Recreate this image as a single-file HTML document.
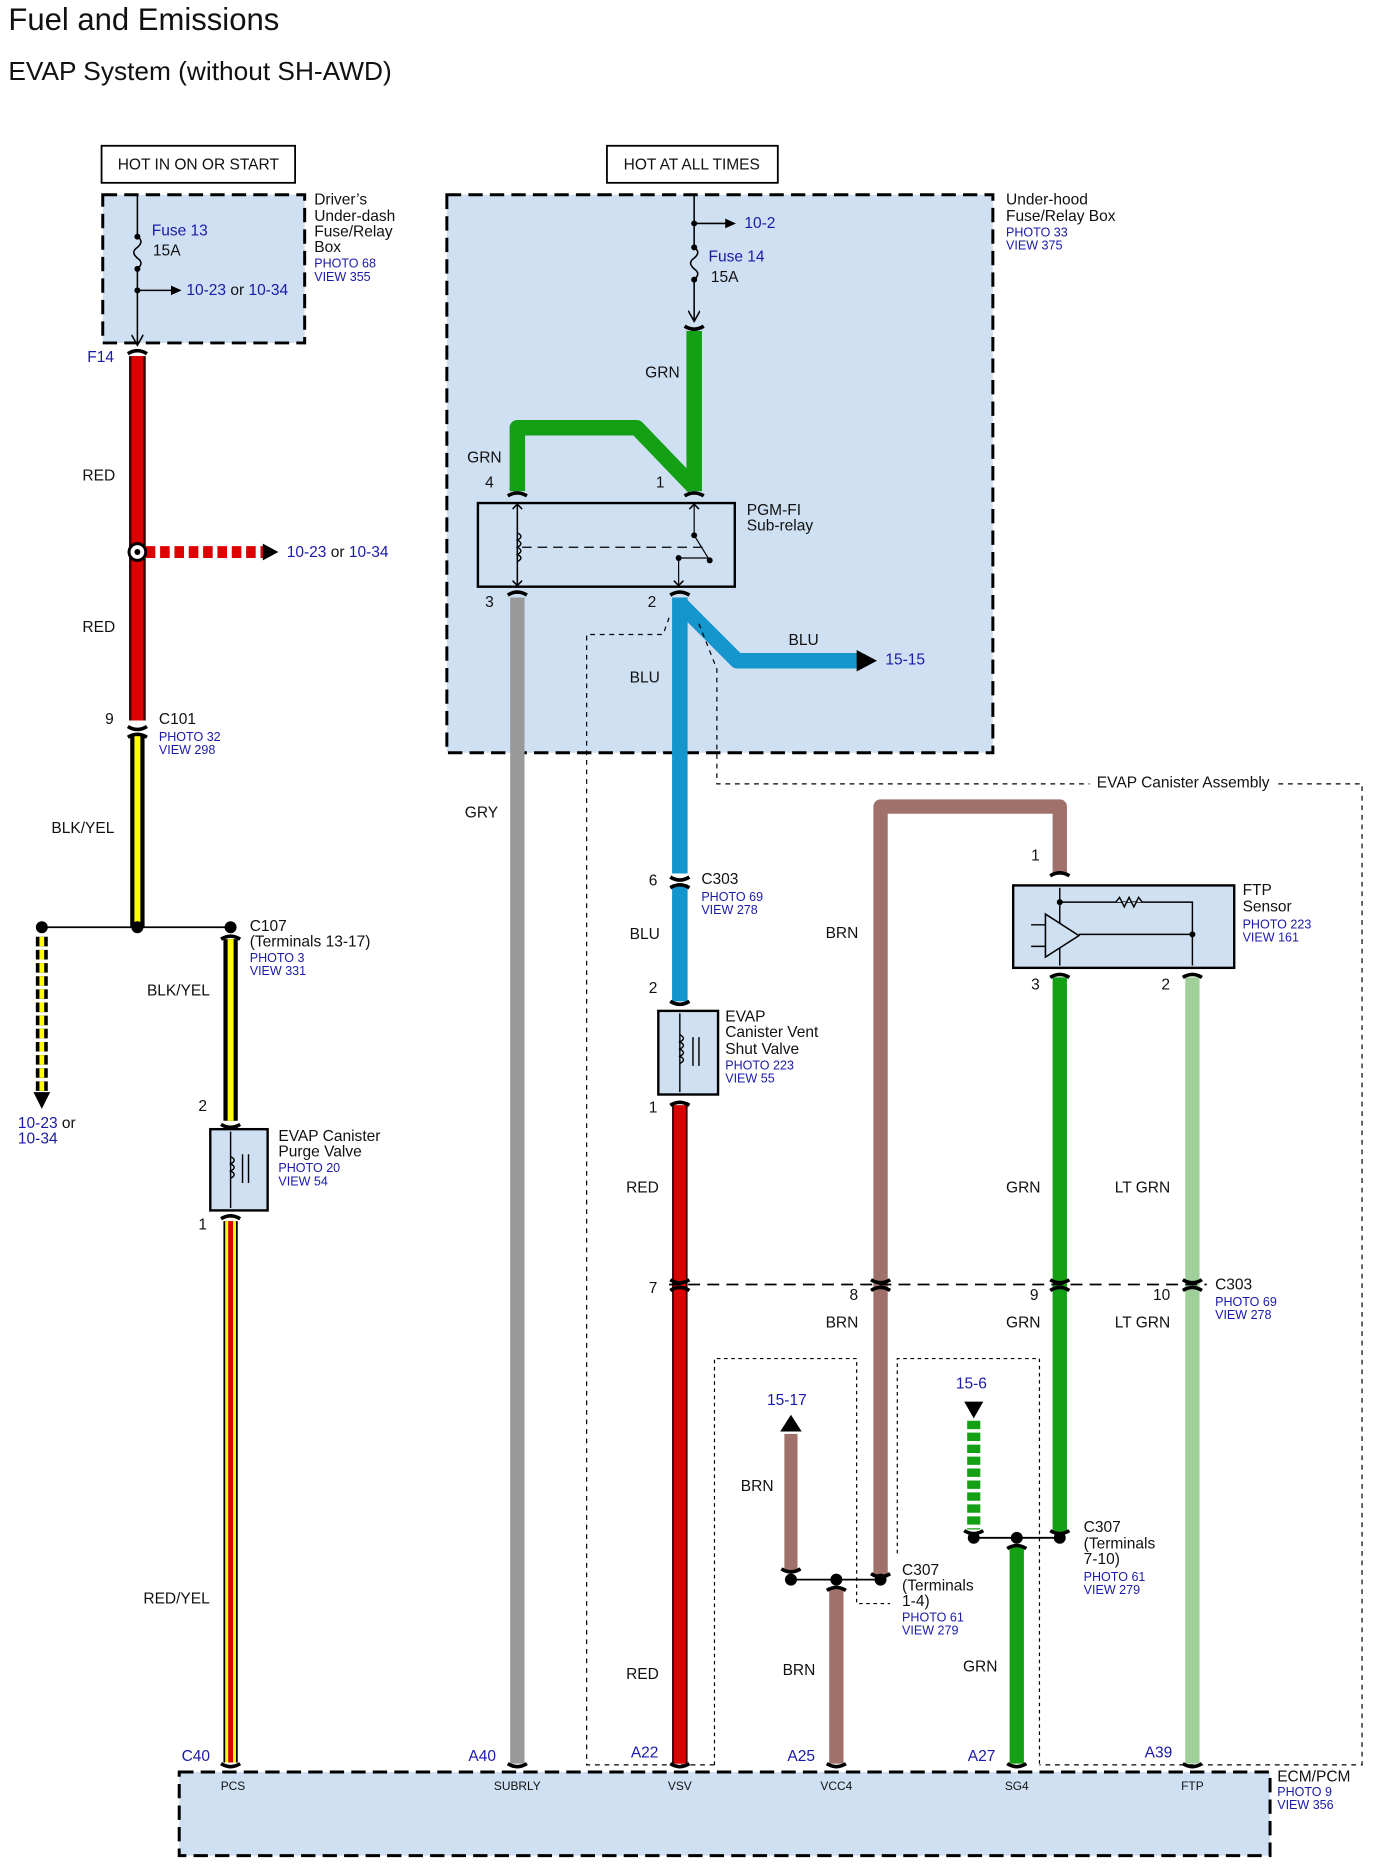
<!DOCTYPE html>
<html><head><meta charset="utf-8"><style>
html,body{margin:0;padding:0;background:#fff}
svg{display:block}
text{font-family:"Liberation Sans",sans-serif;font-size:13px;fill:#111}
.b{fill:#1a1aa8}
.s{font-size:10.5px;fill:#1a1aa8}
.p{font-size:10px;fill:#111}
</style></head><body>
<svg width="1374" height="1870" viewBox="0 0 1150 1565" preserveAspectRatio="none" xmlns="http://www.w3.org/2000/svg">
<defs>
<marker id="ah" markerWidth="10" markerHeight="10" refX="8" refY="5" orient="auto" markerUnits="userSpaceOnUse"><path d="M0,0 L9,5 L0,10" fill="none" stroke="#000" stroke-width="1.3"/></marker>
<marker id="af" markerWidth="10" markerHeight="10" refX="5" refY="5" orient="auto" markerUnits="userSpaceOnUse"><path d="M0,1 L9,5 L0,9z" fill="#000"/></marker>
</defs>
<text x="7" y="25" style="font-size:26px">Fuel and Emissions</text>
<text x="7" y="67" style="font-size:22px">EVAP System (without SH-AWD)</text>

<!-- left fuse box -->
<rect x="85" y="122" width="162" height="31" fill="#fff" stroke="#000" stroke-width="1.5"/>
<text x="166" y="142" text-anchor="middle">HOT IN ON OR START</text>
<rect x="86" y="163" width="169" height="124" fill="#cfe0f2" stroke="#000" stroke-width="2.5" stroke-dasharray="12,6"/>
<path d="M115,163 V198 q6,4 0,9 q-6,4 0,9 q6,4 0,9 V288" fill="none" stroke="#000" stroke-width="1.3" marker-end="url(#ah)"/>
<circle cx="115" cy="198" r="2.5"/><circle cx="115" cy="225" r="2.5"/><circle cx="115" cy="243" r="2.5"/>
<path d="M115,243 H148" stroke="#000" stroke-width="1.3" marker-end="url(#af)"/>
<text x="127" y="197" class="b">Fuse 13</text><text x="128" y="214">15A</text>
<text x="156" y="247" class="b">10-23 <tspan style="fill:#111">or</tspan> 10-34</text>
<text x="263" y="171">Driver’s</text><text x="263" y="185">Under-dash</text><text x="263" y="198">Fuse/Relay</text><text x="263" y="211">Box</text>
<text x="263" y="224" class="s">PHOTO 68</text><text x="263" y="235" class="s">VIEW 355</text>
<text x="73" y="303" class="b">F14</text>

<!-- red wire left -->
<path d="M115,298 V603" stroke="#300" stroke-width="14"/><path d="M115,298 V603" stroke="#d00" stroke-width="10"/>
<text x="69" y="402">RED</text><text x="69" y="529">RED</text>
<path d="M122,462 H222" stroke="#d00" stroke-width="10" stroke-dasharray="8,4"/>
<path d="M220,455 L233,462 L220,469z" fill="#000"/>
<circle cx="115" cy="462" r="7" fill="#fff" stroke="#000" stroke-width="2.5"/><circle cx="115" cy="462" r="2.5"/>
<text x="240" y="466" class="b">10-23 <tspan style="fill:#111">or</tspan> 10-34</text>
<text x="88" y="606">9</text><text x="133" y="606">C101</text>
<text x="133" y="620" class="s">PHOTO 32</text><text x="133" y="631" class="s">VIEW 298</text>
<path d="M115,615 V776" stroke="#000" stroke-width="12"/><path d="M115,615 V776" stroke="#ff0" stroke-width="5"/>
<text x="43" y="697">BLK/YEL</text>
<path d="M35,776 H193" stroke="#000" stroke-width="1.5"/>
<circle cx="35" cy="776" r="5"/><circle cx="115" cy="776" r="5"/><circle cx="193" cy="776" r="5"/>
<path d="M35,784 V915" stroke="#000" stroke-width="10" stroke-dasharray="8,3"/><path d="M35,784 V915" stroke="#ff0" stroke-width="4" stroke-dasharray="8,3"/>
<path d="M28,914 L35,928 L42,914z"/>
<text x="15" y="944" class="b">10-23 <tspan style="fill:#111">or</tspan></text><text x="15" y="957" class="b">10-34</text>
<path d="M193,786 V938" stroke="#000" stroke-width="12"/><path d="M193,786 V938" stroke="#ff0" stroke-width="5"/>
<text x="209" y="779">C107</text><text x="209" y="792">(Terminals 13-17)</text>
<text x="209" y="805" class="s">PHOTO 3</text><text x="209" y="816" class="s">VIEW 331</text>
<text x="123" y="833">BLK/YEL</text>
<text x="166" y="930">2</text>
<rect x="176" y="945" width="48" height="68" fill="#cfe0f2" stroke="#000" stroke-width="2"/>
<path d="M193,947 V1011" stroke="#000" stroke-width="1.2"/>
<path d="M193,968 q6,3 0,6 q6,3 0,6 q6,3 0,6" fill="none" stroke="#000" stroke-width="1.2"/>
<path d="M203,966 V990 M208,966 V990" stroke="#000" stroke-width="1.2"/>
<text x="233" y="955">EVAP Canister</text><text x="233" y="968">Purge Valve</text>
<text x="233" y="981" class="s">PHOTO 20</text><text x="233" y="992" class="s">VIEW 54</text>
<text x="166" y="1029">1</text>
<path d="M193,1022 V1475" stroke="#000" stroke-width="12"/><path d="M193,1022 V1475" stroke="#ff0" stroke-width="9"/><path d="M193,1022 V1475" stroke="#d00" stroke-width="4"/>
<text x="120" y="1342">RED/YEL</text>

<!-- right fuse box -->
<rect x="508" y="122" width="143" height="31" fill="#fff" stroke="#000" stroke-width="1.5"/>
<text x="579" y="142" text-anchor="middle">HOT AT ALL TIMES</text>
<rect x="374" y="163" width="457" height="467" fill="#cfe0f2" stroke="#000" stroke-width="2.5" stroke-dasharray="12,6"/>
<path d="M581,163 V207 q6,4 0,9 q-6,4 0,9 q6,4 0,9 V268" fill="none" stroke="#000" stroke-width="1.3" marker-end="url(#ah)"/>
<circle cx="581" cy="187" r="2.5"/><circle cx="581" cy="207" r="2.5"/><circle cx="581" cy="234" r="2.5"/>
<path d="M581,187 H612" stroke="#000" stroke-width="1.3" marker-end="url(#af)"/>
<text x="623" y="191" class="b">10-2</text>
<text x="593" y="219" class="b">Fuse 14</text><text x="595" y="236">15A</text>
<text x="842" y="171">Under-hood</text><text x="842" y="185">Fuse/Relay Box</text>
<text x="842" y="198" class="s">PHOTO 33</text><text x="842" y="209" class="s">VIEW 375</text>
<path d="M581,277 V411" stroke="#14a014" stroke-width="13"/>
<path d="M433,411 V358 H533 L581,408" fill="none" stroke="#14a014" stroke-width="13" stroke-linejoin="round"/>
<text x="540" y="316">GRN</text><text x="391" y="387">GRN</text>
<text x="406" y="408">4</text><text x="549" y="408">1</text>
<rect x="400" y="421" width="215" height="70" fill="#cfe0f2" stroke="#000" stroke-width="2"/>
<path d="M433,423 V489" stroke="#000" stroke-width="1.3"/>
<path d="M429,426 L433,422 L437,426 M429,486 L433,490 L437,486" fill="none" stroke="#000" stroke-width="1.3"/>
<path d="M433,446 q6,3 0,6 q6,3 0,6 q6,3 0,6 q6,3 0,6" fill="none" stroke="#000" stroke-width="1.2"/>
<path d="M437,458 H592" stroke="#000" stroke-width="1" stroke-dasharray="8,5"/>
<path d="M581,423 V448 L594,469 M568,467 V489 M568,467 H594" fill="none" stroke="#000" stroke-width="1"/>
<path d="M577,426 L581,422 L585,426 M564,486 L568,490 L572,486" fill="none" stroke="#000" stroke-width="1.3"/>
<circle cx="581" cy="448" r="2.5"/><circle cx="594" cy="469" r="2.5"/><circle cx="568" cy="467" r="2.5"/>
<text x="625" y="431">PGM-FI</text><text x="625" y="444">Sub-relay</text>
<text x="406" y="508">3</text><text x="542" y="508">2</text>
<path d="M433,500 V1476" stroke="#999" stroke-width="12"/>
<text x="389" y="684">GRY</text>
<path d="M569,500 V731" stroke="#1496cc" stroke-width="13"/>
<path d="M569,505 L617,553 H718" fill="none" stroke="#1496cc" stroke-width="13" stroke-linejoin="round"/>
<path d="M717,544 L734,553 L717,562z"/>
<text x="660" y="540">BLU</text><text x="741" y="556" class="b">15-15</text><text x="527" y="571">BLU</text>

<!-- EVAP canister assembly outline -->
<g fill="none" stroke="#000" stroke-width="1" stroke-dasharray="4,4">
<path d="M598,1477 H491 V531 H555 L560,517"/>
<path d="M585,522 L600,560 V656 H912"/>
<path d="M1070,656 H1140 V1477 H870"/>
</g>
<text x="918" y="659">EVAP Canister Assembly</text>

<text x="543" y="741">6</text><text x="587" y="740">C303</text>
<text x="587" y="754" class="s">PHOTO 69</text><text x="587" y="765" class="s">VIEW 278</text>
<path d="M569,740 V838" stroke="#1496cc" stroke-width="13"/>
<text x="527" y="786">BLU</text><text x="543" y="831">2</text>
<rect x="551" y="846" width="50" height="70" fill="#cfe0f2" stroke="#000" stroke-width="2"/>
<path d="M569,848 V914" stroke="#000" stroke-width="1.2"/>
<path d="M569,866 q6,3 0,6 q6,3 0,6 q6,3 0,6 q6,3 0,6" fill="none" stroke="#000" stroke-width="1.2"/>
<path d="M580,868 V892 M585,868 V892" stroke="#000" stroke-width="1.2"/>
<text x="607" y="855">EVAP</text><text x="607" y="868">Canister Vent</text><text x="607" y="882">Shut Valve</text>
<text x="607" y="895" class="s">PHOTO 223</text><text x="607" y="906" class="s">VIEW 55</text>
<text x="543" y="931">1</text>
<path d="M569,925 V1476" stroke="#300" stroke-width="13"/><path d="M569,925 V1476" stroke="#d00" stroke-width="10"/>
<text x="524" y="998">RED</text><text x="524" y="1405">RED</text>

<path d="M737,1320 V675 H887 V732" fill="none" stroke="#a0706a" stroke-width="12" stroke-linejoin="round"/>
<text x="691" y="785">BRN</text><text x="863" y="720">1</text>
<rect x="848" y="741" width="185" height="69" fill="#cfe0f2" stroke="#000" stroke-width="2"/>
<path d="M887,743 V808 M887,755 H998 V808 M903,782 H998" fill="none" stroke="#000" stroke-width="1.2"/>
<path d="M875,765 V801 L903,783z" fill="#cfe0f2" stroke="#000" stroke-width="1.3"/>
<path d="M863,774 H875 M863,792 H875" stroke="#000" stroke-width="1.2"/>
<path d="M934,755 l3,-4 l4,8 l4,-8 l4,8 l4,-8 l3,4" fill="#cfe0f2" stroke="#000" stroke-width="1.2"/>
<circle cx="887" cy="755" r="2.5"/><circle cx="998" cy="782" r="2.5"/>
<text x="1040" y="749">FTP</text><text x="1040" y="763">Sensor</text>
<text x="1040" y="777" class="s">PHOTO 223</text><text x="1040" y="788" class="s">VIEW 161</text>
<text x="863" y="828">3</text><text x="972" y="828">2</text>
<path d="M887,818 V1283" stroke="#14a014" stroke-width="12"/>
<path d="M998,818 V1476" stroke="#9fd09a" stroke-width="12"/>
<text x="842" y="998">GRN</text><text x="933" y="998">LT GRN</text>

<path d="M560,1075 H1010" stroke="#000" stroke-width="1.5" stroke-dasharray="10,6"/>
<text x="543" y="1082">7</text><text x="711" y="1088">8</text><text x="862" y="1088">9</text><text x="965" y="1088">10</text>
<text x="1017" y="1079">C303</text><text x="1017" y="1093" class="s">PHOTO 69</text><text x="1017" y="1104" class="s">VIEW 278</text>
<text x="691" y="1111">BRN</text><text x="842" y="1111">GRN</text><text x="933" y="1111">LT GRN</text>

<g fill="none" stroke="#000" stroke-width="1" stroke-dasharray="3,3">
<path d="M598,1477 V1137 H717 V1342 H745"/>
<path d="M751,1300 V1137 H870 V1477"/>
</g>
<text x="642" y="1176" class="b">15-17</text>
<path d="M653,1198 L662,1184 L671,1198z"/>
<path d="M662,1200 V1316" stroke="#a0706a" stroke-width="11"/>
<text x="620" y="1248">BRN</text>
<path d="M662,1322 H737" stroke="#000" stroke-width="1.5"/>
<circle cx="662" cy="1322" r="5"/><circle cx="700" cy="1322" r="5"/><circle cx="737" cy="1322" r="5"/>
<path d="M700,1330 V1476" stroke="#a0706a" stroke-width="12"/>
<text x="655" y="1402">BRN</text>
<text x="755" y="1318">C307</text><text x="755" y="1331">(Terminals</text><text x="755" y="1344">1-4)</text>
<text x="755" y="1357" class="s">PHOTO 61</text><text x="755" y="1368" class="s">VIEW 279</text>
<text x="800" y="1162" class="b">15-6</text>
<path d="M807,1173 L815,1187 L823,1173z"/>
<path d="M815,1189 V1280" stroke="#14a014" stroke-width="11" stroke-dasharray="7,3"/>
<path d="M815,1287 H887" stroke="#000" stroke-width="1.5"/>
<circle cx="815" cy="1287" r="5"/><circle cx="851" cy="1287" r="5"/><circle cx="887" cy="1287" r="5"/>
<path d="M851,1295 V1476" stroke="#14a014" stroke-width="12"/>
<text x="806" y="1399">GRN</text>
<text x="907" y="1282">C307</text><text x="907" y="1296">(Terminals</text><text x="907" y="1309">7-10)</text>
<text x="907" y="1323" class="s">PHOTO 61</text><text x="907" y="1334" class="s">VIEW 279</text>

<!-- connector caps -->
<g fill="none" stroke="#000" stroke-width="3">
<path d="M107,296 q8,-5 16,0"/>
<path d="M107,608 q8,5 16,0 M107,617 q8,-5 16,0"/>
<path d="M185,786 q8,-5 16,0"/>
<path d="M185,941 q8,5 16,0 M185,1020 q8,-5 16,0"/>
<path d="M573,273 q8,5 16,0 M425,415 q8,-5 16,0 M573,415 q8,-5 16,0"/>
<path d="M425,498 q8,-5 16,0 M561,498 q8,-5 16,0"/>
<path d="M561,734 q8,5 16,0 M561,743 q8,-5 16,0"/>
<path d="M561,838 q8,5 16,0 M561,925 q8,-5 16,0"/>
<path d="M879,733 q8,-5 16,0 M879,818 q8,-5 16,0 M990,818 q8,-5 16,0"/>
<path d="M561,1071 q8,5 16,0 M561,1080 q8,-5 16,0"/>
<path d="M729,1071 q8,5 16,0 M729,1080 q8,-5 16,0"/>
<path d="M879,1071 q8,5 16,0 M879,1080 q8,-5 16,0"/>
<path d="M990,1071 q8,5 16,0 M990,1080 q8,-5 16,0"/>
<path d="M654,1313 q8,5 16,0 M729,1317 q8,5 16,0 M807,1281 q8,5 16,0 M879,1281 q8,5 16,0"/>
<path d="M692,1331 q8,-5 16,0 M843,1296 q8,-5 16,0"/>
<path d="M185,1476 q8,5 16,0 M425,1476 q8,5 16,0 M561,1476 q8,5 16,0 M692,1476 q8,5 16,0 M843,1476 q8,5 16,0 M990,1476 q8,5 16,0"/>
</g>

<!-- ECM -->
<text x="152" y="1474" class="b">C40</text><text x="392" y="1474" class="b">A40</text><text x="528" y="1471" class="b">A22</text>
<text x="659" y="1474" class="b">A25</text><text x="810" y="1474" class="b">A27</text><text x="958" y="1471" class="b">A39</text>
<rect x="150" y="1483" width="913" height="70" fill="#cfe0f2" stroke="#000" stroke-width="2.5" stroke-dasharray="12,6"/>
<text x="195" y="1498" class="p" text-anchor="middle">PCS</text><text x="433" y="1498" class="p" text-anchor="middle">SUBRLY</text>
<text x="569" y="1498" class="p" text-anchor="middle">VSV</text><text x="700" y="1498" class="p" text-anchor="middle">VCC4</text>
<text x="851" y="1498" class="p" text-anchor="middle">SG4</text><text x="998" y="1498" class="p" text-anchor="middle">FTP</text>
<text x="1069" y="1491">ECM/PCM</text><text x="1069" y="1503" class="s">PHOTO 9</text><text x="1069" y="1514" class="s">VIEW 356</text>
</svg>
</body></html>
